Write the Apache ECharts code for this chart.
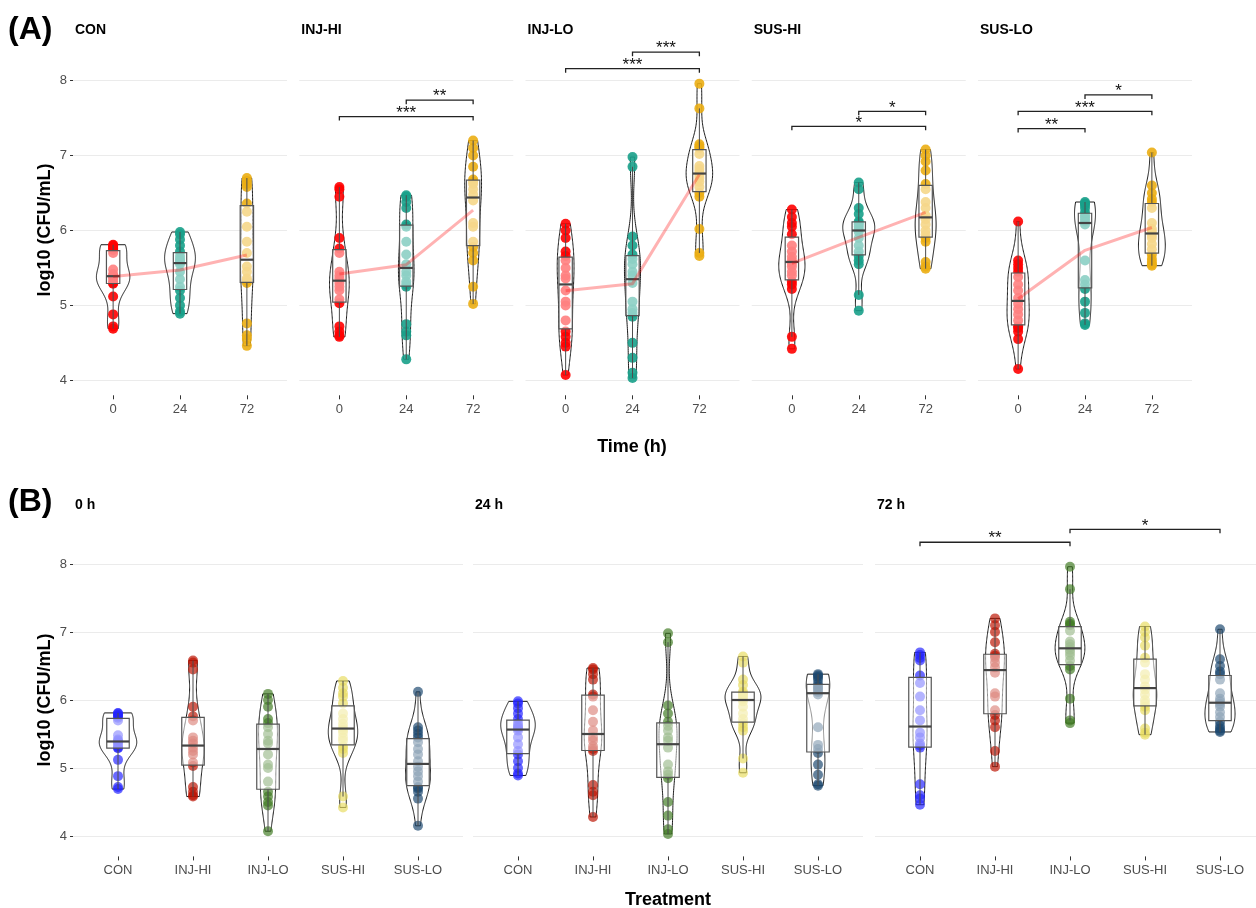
<!DOCTYPE html>
<html>
<head>
<meta charset="utf-8">
<script src="https://cdn.jsdelivr.net/npm/echarts@6/dist/echarts.min.js"></script>
<style>
  html, body { margin: 0; padding: 0; background: #fff; }
  #chart { width: 1256px; height: 908px; }
</style>
</head>
<body>
<div id="chart"></div>
<script>
// categories
const treatments = ['CON', 'INJ-HI', 'INJ-LO', 'SUS-HI', 'SUS-LO'];
const times = ['0', '24', '72'];
const timeTitles = ['0 h', '24 h', '72 h'];
const yTicks = [4, 5, 6, 7, 8];

// log10 (CFU/mL)
const CON_0 = [4.69, 4.72, 4.88, 5.12, 5.29, 5.30, 5.32, 5.36, 5.38, 5.40, 5.42, 5.48, 5.70, 5.74, 5.76, 5.78, 5.80, 5.81];
const CON_24 = [4.89, 4.92, 5.00, 5.10, 5.20, 5.25, 5.35, 5.45, 5.55, 5.58, 5.60, 5.62, 5.66, 5.72, 5.80, 5.88, 5.95, 5.98];
const CON_72 = [4.46, 4.55, 4.60, 4.76, 5.30, 5.33, 5.36, 5.45, 5.52, 5.70, 5.85, 6.05, 6.25, 6.36, 6.58, 6.62, 6.66, 6.70];
const INJHI_0 = [4.58, 4.60, 4.65, 4.72, 5.03, 5.08, 5.20, 5.25, 5.30, 5.36, 5.40, 5.45, 5.70, 5.76, 5.90, 6.45, 6.55, 6.58];
const INJHI_24 = [4.28, 4.60, 4.65, 4.75, 5.25, 5.28, 5.32, 5.40, 5.45, 5.55, 5.68, 5.85, 6.05, 6.08, 6.30, 6.38, 6.45, 6.47];
const INJHI_72 = [5.02, 5.25, 5.60, 5.70, 5.78, 5.85, 6.05, 6.10, 6.40, 6.48, 6.55, 6.62, 6.65, 6.68, 6.85, 7.00, 7.10, 7.20];
const INJLO_0 = [4.07, 4.45, 4.50, 4.58, 4.65, 4.80, 5.00, 5.05, 5.20, 5.36, 5.40, 5.50, 5.60, 5.66, 5.72, 5.90, 6.00, 6.09];
const INJLO_24 = [4.03, 4.10, 4.30, 4.50, 4.85, 4.90, 4.95, 5.05, 5.30, 5.40, 5.45, 5.55, 5.62, 5.68, 5.80, 5.92, 6.85, 6.98];
const INJLO_72 = [5.66, 5.70, 6.02, 6.45, 6.50, 6.58, 6.65, 6.70, 6.74, 6.78, 6.82, 6.86, 7.02, 7.10, 7.12, 7.15, 7.63, 7.96];
const SUSHI_0 = [4.42, 4.58, 5.22, 5.28, 5.32, 5.40, 5.45, 5.52, 5.56, 5.60, 5.65, 5.72, 5.80, 5.95, 6.05, 6.10, 6.18, 6.28];
const SUSHI_24 = [4.93, 5.14, 5.55, 5.60, 5.66, 5.72, 5.80, 5.90, 5.98, 6.02, 6.05, 6.08, 6.10, 6.12, 6.22, 6.30, 6.55, 6.64];
const SUSHI_72 = [5.49, 5.52, 5.58, 5.85, 5.90, 5.95, 6.00, 6.08, 6.15, 6.20, 6.30, 6.38, 6.55, 6.62, 6.80, 6.92, 7.00, 7.08];
const SUSLO_0 = [4.15, 4.55, 4.65, 4.70, 4.72, 4.80, 4.88, 4.95, 5.02, 5.10, 5.20, 5.28, 5.38, 5.45, 5.50, 5.55, 5.60, 6.12];
const SUSLO_24 = [4.74, 4.76, 4.90, 5.05, 5.22, 5.28, 5.34, 5.60, 6.08, 6.12, 6.15, 6.18, 6.20, 6.24, 6.30, 6.34, 6.36, 6.38];
const SUSLO_72 = [5.53, 5.55, 5.58, 5.62, 5.68, 5.75, 5.82, 5.90, 5.94, 5.98, 6.02, 6.10, 6.30, 6.38, 6.42, 6.50, 6.60, 7.04];

// significance brackets: [facet, from, to, level, label]
const sigA = [
  ['INJ-HI', 0, 2, 7.52, '***'],
  ['INJ-HI', 1, 2, 7.74, '**'],
  ['INJ-LO', 0, 2, 8.16, '***'],
  ['INJ-LO', 1, 2, 8.38, '***'],
  ['SUS-HI', 0, 2, 7.39, '*'],
  ['SUS-HI', 1, 2, 7.59, '*'],
  ['SUS-LO', 0, 1, 7.36, '**'],
  ['SUS-LO', 0, 2, 7.59, '***'],
  ['SUS-LO', 1, 2, 7.81, '*']
];
const sigB = [
  ['72 h', 0, 2, 8.32, '**'],
  ['72 h', 2, 4, 8.51, '*']
];

const values = {
  'CON': [CON_0, CON_24, CON_72],
  'INJ-HI': [INJHI_0, INJHI_24, INJHI_72],
  'INJ-LO': [INJLO_0, INJLO_24, INJLO_72],
  'SUS-HI': [SUSHI_0, SUSHI_24, SUSHI_72],
  'SUS-LO': [SUSLO_0, SUSLO_24, SUSLO_72]
};

const timeColors = ['#FF0000', '#18A08A', '#EBAE14'];
const treatColors = ['#2222FF', '#BB1100', '#3F7A22', '#E8DB60', '#1A476E'];
const FONT = '"Liberation Sans", Arial, sans-serif';

// ---- stats helpers ----
function quant(s, p) {
  const h = (s.length - 1) * p;
  const lo = Math.floor(h);
  const hi = Math.min(lo + 1, s.length - 1);
  return s[lo] + (h - lo) * (s[hi] - s[lo]);
}

function stats(vals) {
  const s = vals.slice().sort((a, b) => a - b);
  const n = s.length;
  const mean = s.reduce((a, b) => a + b, 0) / n;
  const sd = Math.sqrt(s.reduce((a, b) => a + (b - mean) * (b - mean), 0) / (n - 1));
  const q1 = quant(s, 0.25), med = quant(s, 0.5), q3 = quant(s, 0.75);
  const iqr = q3 - q1;
  const lo = s.find(v => v >= q1 - 1.5 * iqr);
  const hi = s.slice().reverse().find(v => v <= q3 + 1.5 * iqr);
  // gaussian kde, nrd0 bandwidth, trimmed to data range
  const bw = 0.9 * Math.min(sd, iqr / 1.34) * Math.pow(n, -0.2);
  const ys = [], ds = [];
  const steps = 120;
  for (let i = 0; i <= steps; i++) {
    const y = s[0] + (s[n - 1] - s[0]) * i / steps;
    let d = 0;
    s.forEach(v => { const z = (y - v) / bw; d += Math.exp(-0.5 * z * z); });
    ys.push(y);
    ds.push(d / (n * bw * Math.sqrt(2 * Math.PI)));
  }
  return { s, mean, q1, med, q3, lo, hi, ys, ds };
}

const st = {};
let maxD = 0;
treatments.forEach(t => {
  st[t] = values[t].map(v => stats(v));
  st[t].forEach(g => { maxD = Math.max(maxD, ...g.ds); });
});

// ---- layout ----
const gridsA = treatments.map((t, i) => ({ left: 73 + i * 226.25, top: 43.2, width: 214, height: 352.1 }));
const gridsB = [73, 473, 875].map(l => ({ left: l, top: 516.4, width: 390, height: 340 }));
const grids = gridsA.concat(gridsB).map(g => Object.assign({ outerBoundsMode: 'none', containLabel: false }, g));

const xAxes = [], yAxes = [], series = [];

function addFacet(gi, cats, groups, colors, alpha, boxW, sigs, showY, meanLine) {
  const idx = cats.map((c, i) => i);
  xAxes.push({
    gridIndex: gi, type: 'value', min: -0.6, max: cats.length - 0.4,
    axisLine: { show: false, onZero: false }, splitLine: { show: false },
    axisTick: { show: true, customValues: idx, length: 4, lineStyle: { color: '#333', width: 1 } },
    axisLabel: { customValues: idx, formatter: v => cats[Math.round(v)], color: '#4D4D4D', fontSize: 13, margin: 8, fontFamily: FONT }
  });
  yAxes.push({
    gridIndex: gi, type: 'value', min: gi < 5 ? 3.8 : 3.7, max: gi < 5 ? 8.5 : 8.7,
    axisLine: { show: false, onZero: false }, splitLine: { show: false },
    axisTick: { show: showY, customValues: yTicks, length: 3, lineStyle: { color: '#333' } },
    axisLabel: { show: showY, customValues: yTicks, color: '#4D4D4D', fontSize: 13, margin: 6, fontFamily: FONT }
  });

  // horizontal grid lines
  series.push({
    type: 'line', xAxisIndex: gi, yAxisIndex: gi, data: [], silent: true,
    markLine: {
      silent: true, z: 0, symbol: ['none', 'none'], label: { show: false },
      lineStyle: { color: '#EBEBEB', width: 1.2, type: 'solid' },
      emphasis: { disabled: true },
      data: yTicks.map(v => ({ yAxis: v }))
    }
  });

  // violins
  series.push({
    type: 'custom', xAxisIndex: gi, yAxisIndex: gi, z: 2, silent: true,
    data: groups.map((g, i) => [i, g.s[0], g.s[g.s.length - 1]]),
    encode: { x: 0, y: [1, 2] },
    renderItem: (params, api) => {
      const g = groups[params.dataIndex];
      const x = params.dataIndex;
      const pts = [];
      for (let i = 0; i < g.ys.length; i++) pts.push(api.coord([x - 0.25 * g.ds[i] / maxD, g.ys[i]]));
      for (let i = g.ys.length - 1; i >= 0; i--) pts.push(api.coord([x + 0.25 * g.ds[i] / maxD, g.ys[i]]));
      return { type: 'polygon', shape: { points: pts }, style: { fill: 'none', stroke: '#1a1a1a', lineWidth: 1 } };
    }
  });

  // points
  groups.forEach((g, i) => {
    series.push({
      type: 'scatter', xAxisIndex: gi, yAxisIndex: gi, z: 3, silent: true,
      symbolSize: 10,
      itemStyle: { color: colors[i], opacity: alpha },
      data: g.s.map(v => [i, v])
    });
  });

  // boxes
  series.push({
    type: 'custom', xAxisIndex: gi, yAxisIndex: gi, z: 4, silent: true,
    data: groups.map((g, i) => [i, g.lo, g.q1, g.med, g.q3, g.hi]),
    encode: { x: 0, y: [1, 5] },
    renderItem: (params, api) => {
      const x = api.value(0), lo = api.value(1), q1 = api.value(2), med = api.value(3), q3 = api.value(4), hi = api.value(5);
      const hw = boxW / 2;
      const tl = api.coord([x - hw, q3]), br = api.coord([x + hw, q1]);
      const m1 = api.coord([x - hw, med]), m2 = api.coord([x + hw, med]);
      const c3 = api.coord([x, q3]), c1 = api.coord([x, q1]);
      const wt = api.coord([x, hi]), wb = api.coord([x, lo]);
      const ls = { stroke: '#4d4d4d', lineWidth: 1 };
      return {
        type: 'group', children: [
          { type: 'line', shape: { x1: c3[0], y1: c3[1], x2: wt[0], y2: wt[1] }, style: ls },
          { type: 'line', shape: { x1: c1[0], y1: c1[1], x2: wb[0], y2: wb[1] }, style: ls },
          { type: 'rect', shape: { x: tl[0], y: tl[1], width: br[0] - tl[0], height: br[1] - tl[1] },
            style: { fill: 'rgba(255,255,255,0.5)', stroke: '#555', lineWidth: 1.2 } },
          { type: 'line', shape: { x1: m1[0], y1: m1[1], x2: m2[0], y2: m2[1] }, style: { stroke: '#444', lineWidth: 2.2 } }
        ]
      };
    }
  });

  // mean trend
  if (meanLine) {
    series.push({
      type: 'line', xAxisIndex: gi, yAxisIndex: gi, z: 5, silent: true,
      showSymbol: false, symbol: 'none',
      lineStyle: { color: 'rgba(255,0,0,0.3)', width: 3 },
      data: groups.map((g, i) => [i, g.mean])
    });
  }

  // significance brackets
  if (sigs.length) {
    series.push({
      type: 'custom', xAxisIndex: gi, yAxisIndex: gi, z: 6, silent: true,
      data: sigs.map(b => [b[1], b[2], b[3]]),
      encode: { x: [0, 1], y: 2 },
      renderItem: (params, api) => {
        const a = api.coord([api.value(0), api.value(2)]);
        const b = api.coord([api.value(1), api.value(2)]);
        const tip = 4;
        return {
          type: 'group', children: [
            { type: 'polyline', shape: { points: [[a[0], a[1] + tip], a, b, [b[0], b[1] + tip]] },
              style: { fill: 'none', stroke: '#222', lineWidth: 1.3 } },
            { type: 'text', x: (a[0] + b[0]) / 2, y: a[1] + 5,
              style: { text: sigs[params.dataIndex][4], fill: '#111', fontSize: 17, fontFamily: FONT,
                       textAlign: 'center', textVerticalAlign: 'bottom' } }
          ]
        };
      }
    });
  }
}

// (A) facets by treatment, x = time
treatments.forEach((t, i) => {
  addFacet(i, times, st[t], timeColors, 0.9, 0.2, sigA.filter(b => b[0] === t), i === 0, true);
});
// (B) facets by time, x = treatment
timeTitles.forEach((tt, j) => {
  const groups = treatments.map(t => st[t][j]);
  addFacet(5 + j, treatments, groups, treatColors, 0.68, 0.3, sigB.filter(b => b[0] === tt), j === 0, false);
});

const axisTitle = { fontWeight: 'bold', fontSize: 18, color: '#000', fontFamily: FONT };
const stripStyle = { fontWeight: 'bold', fontSize: 14, color: '#000', fontFamily: FONT };
const panelStyle = { fontWeight: 'bold', fontSize: 32, color: '#000', fontFamily: FONT };
const titles = [
  { text: '(A)', left: 8, top: 14, padding: 0, textStyle: panelStyle },
  { text: '(B)', left: 8, top: 486, padding: 0, textStyle: panelStyle },
  { text: 'Time (h)', left: 632, top: 438, padding: 0, textAlign: 'center', textStyle: axisTitle },
  { text: 'Treatment', left: 668, top: 891, padding: 0, textAlign: 'center', textStyle: axisTitle }
];
treatments.forEach((t, i) => titles.push({ text: t, left: gridsA[i].left + 2, top: 23, padding: 0, textStyle: stripStyle }));
timeTitles.forEach((t, j) => titles.push({ text: t, left: gridsB[j].left + 2, top: 498, padding: 0, textStyle: stripStyle }));

// rotated y-axis titles, centred on the middle tick of each row
const yTitles = [230, 700].map(cy => ({
  type: 'text', x: 45, y: cy, rotation: Math.PI / 2,
  style: { text: 'log10 (CFU/mL)', fill: '#000', font: 'bold 18px ' + FONT, textAlign: 'center', textVerticalAlign: 'middle' }
}));

const chart = echarts.init(document.getElementById('chart'));
chart.setOption({
  animation: false,
  backgroundColor: '#fff',
  title: titles,
  graphic: yTitles,
  grid: grids,
  xAxis: xAxes,
  yAxis: yAxes,
  series: series
});
</script>
</body>
</html>
